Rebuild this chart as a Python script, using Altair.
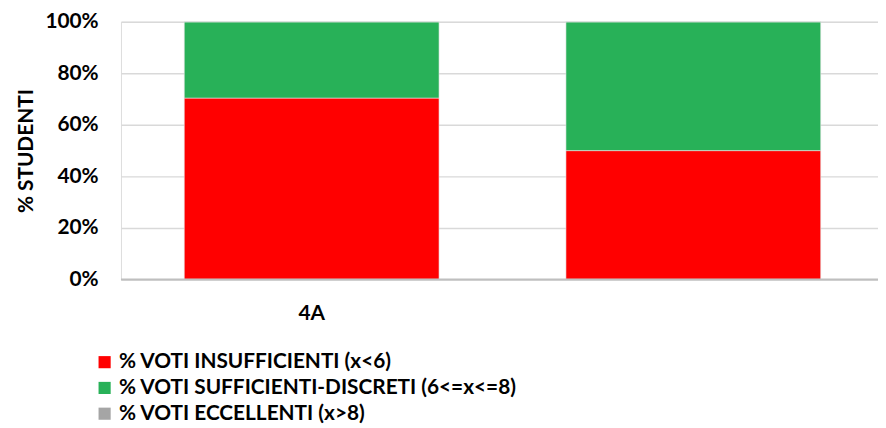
import altair as alt
import pandas as pd

classes = ["4A", " "]
series = [
    "% VOTI INSUFFICIENTI (x<6)",
    "% VOTI SUFFICIENTI-DISCRETI (6<=x<=8)",
    "% VOTI ECCELLENTI (x>8)",
]
insufficienti = [0.704, 0.50]
sufficienti = [0.296, 0.50]
eccellenti = [0.0, 0.0]
colors = ["#ff0000", "#28b158", "#a5a5a5"]

rows = []
for i, c in enumerate(classes):
    for k, (s, vals) in enumerate(zip(series, [insufficienti, sufficienti, eccellenti])):
        rows.append({"classe": c, "serie": s, "valore": vals[i], "ordine": k})
df = pd.DataFrame(rows)

FONT = "Lato"
FS = 21

chart = alt.Chart(df).mark_bar(stroke="#e6e6e6", strokeWidth=0.6).encode(
    x=alt.X(
        "classe:N",
        sort=classes,
        title=None,
        scale=alt.Scale(paddingInner=0.3325, paddingOuter=0.158, align=0.525),
        axis=alt.Axis(
            labelAngle=0, ticks=False, domain=False, labelPadding=23,
            labelFont=FONT, labelFontSize=FS, labelFontWeight="bold", labelColor="#000000",
        ),
    ),
    y=alt.Y(
        "valore:Q",
        stack="zero",
        title="% STUDENTI",
        scale=alt.Scale(domain=[0, 1], nice=False),
        axis=alt.Axis(
            format=".0%", values=[0, 0.2, 0.4, 0.6, 0.8, 1.0], ticks=False, domain=False,
            labelPadding=23, labelFont=FONT, labelFontSize=FS, labelFontWeight="bold",
            labelColor="#000000", gridColor="#d9d9d9", gridWidth=1.5,
            titleFont=FONT, titleFontSize=FS, titleFontWeight="bold", titleColor="#000000",
            titlePadding=9,
        ),
    ),
    color=alt.Color(
        "serie:N",
        sort=series,
        scale=alt.Scale(domain=series, range=colors),
        legend=alt.Legend(
            title=None, orient="none", legendX=-27, legendY=333, direction="vertical",
            symbolType="square", symbolSize=150, symbolStrokeWidth=0,
            labelFont=FONT, labelFontSize=FS, labelFontWeight="bold", labelColor="#000000",
            rowPadding=4, labelLimit=600,
        ),
    ),
    order=alt.Order("ordine:Q", sort="ascending"),
)

rule = alt.Chart(pd.DataFrame({"v": [0]})).mark_rule(color="#bfbfbf", strokeWidth=2).encode(
    y=alt.Y("v:Q", scale=alt.Scale(domain=[0, 1]))
)

final = alt.layer(chart, rule).properties(
    width=764,
    height=260,
    autosize=alt.AutoSizeParams(type="none"),
    padding={"left": 114, "top": 12, "right": 0, "bottom": 148},
).configure_view(stroke=None).configure(background="#ffffff")

final.save("out.html", embed_options={"renderer": "svg", "actions": False})
